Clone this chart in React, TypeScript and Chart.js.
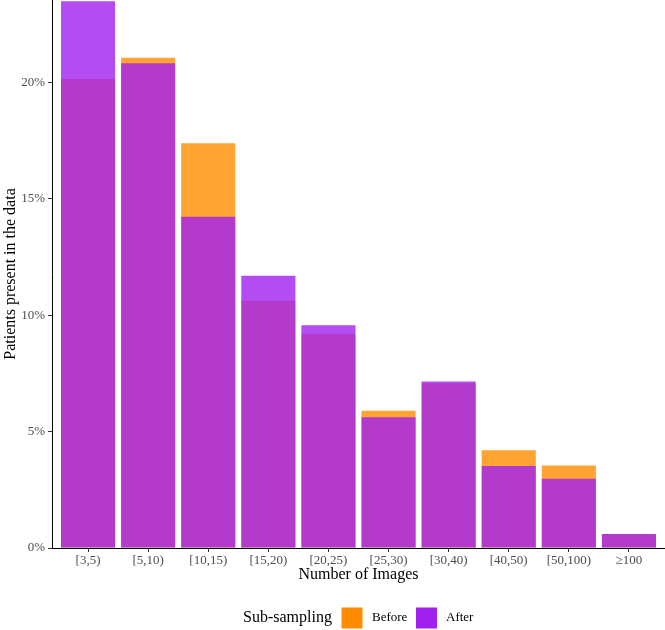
import React, { useEffect, useRef } from "react";
import { Chart, registerables } from "chart.js";

Chart.register(...registerables);

const categories = ["[3,5)", "[5,10)", "[10,15)", "[15,20)", "[20,25)", "[25,30)", "[30,40)", "[40,50)", "[50,100)", "≥100"];
const beforeValues = [20.15, 21.07, 17.39, 10.63, 9.2, 5.9, 7.08, 4.2, 3.55, 0.6];
const afterValues = [23.5, 20.83, 14.24, 11.7, 9.57, 5.62, 7.16, 3.52, 2.98, 0.6];
const yTicks = [0, 5, 10, 15, 20];
const seriesNames = ["Before", "After"];

const FONT = "'Liberation Serif', 'Times New Roman', serif";
const ORANGE = "rgba(255,140,0,0.8)";
const PURPLE = "rgba(160,32,240,0.8)";

const overlayPlugin = {
  id: "overlay",
  afterDraw(chart: any) {
    const ctx = chart.ctx;
    const ca = chart.chartArea;
    ctx.save();
    ctx.fillStyle = "#000";
    ctx.font = `16px ${FONT}`;
    ctx.textAlign = "center";
    ctx.textBaseline = "middle";
    ctx.save();
    ctx.translate(11, (ca.top + ca.bottom) / 2);
    ctx.rotate(-Math.PI / 2);
    ctx.fillText("Patients present in the data", 0, 0);
    ctx.restore();
    ctx.fillText("Number of Images", (ca.left + ca.right) / 2, 575);
    ctx.textAlign = "left";
    ctx.fillText("Sub-sampling", 243, 618);
    ctx.fillStyle = "rgb(255,140,0)";
    ctx.fillRect(341.5, 607.5, 21, 21);
    ctx.fillStyle = "rgb(160,32,240)";
    ctx.fillRect(416, 607.5, 21, 21);
    ctx.fillStyle = "#000";
    ctx.font = `13px ${FONT}`;
    ctx.fillText(seriesNames[0], 372, 618);
    ctx.fillText(seriesNames[1], 446, 618);
    ctx.restore();
  },
};

export default function App() {
  const ref = useRef<HTMLCanvasElement>(null);
  useEffect(() => {
    document.body.style.margin = "0";
    const chart = new Chart(ref.current!, {
      type: "bar",
      data: {
        datasets: [
          {
            label: seriesNames[0],
            data: beforeValues.map((v, i) => ({ x: i + 1, y: v })),
            backgroundColor: ORANGE,
            borderWidth: 0,
            grouped: false,
            order: 2,
          } as any,
          {
            label: seriesNames[1],
            data: afterValues.map((v, i) => ({ x: i + 1, y: v })),
            backgroundColor: PURPLE,
            borderWidth: 0,
            grouped: false,
            order: 1,
          } as any,
        ],
      },
      options: {
        animation: false,
        responsive: false,
        layout: { padding: 0 },
        barPercentage: 0.9,
        categoryPercentage: 1,
        plugins: { legend: { display: false }, tooltip: { enabled: false } },
        scales: {
          x: {
            type: "linear",
            offset: false,
            min: 0.4,
            max: 10.6,
            afterFit: (s: any) => { s.height = 82; s.paddingLeft = 0; s.paddingRight = 0; },
            afterBuildTicks: (s: any) => { s.ticks = categories.map((_, i) => ({ value: i + 1 })); },
            ticks: {
              autoSkip: false,
              maxRotation: 0,
              padding: 1,
              color: "#4D4D4D",
              font: { family: FONT, size: 13 },
              callback: (v: any) => categories[Math.round(Number(v)) - 1] ?? "",
            },
            grid: { display: true, offset: false, drawOnChartArea: false, drawTicks: true, tickLength: 4, color: "#333333" },
            border: { display: true, color: "#000", width: 1 },
          },
          y: {
            type: "linear",
            min: 0,
            max: 23.55,
            afterFit: (s: any) => { s.width = 52; s.paddingTop = 0; s.paddingBottom = 0; },
            afterBuildTicks: (s: any) => { s.ticks = yTicks.map((v) => ({ value: v })); },
            ticks: {
              padding: 3,
              color: "#4D4D4D",
              font: { family: FONT, size: 13 },
              callback: (v: any) => `${v}%`,
            },
            grid: { display: true, drawOnChartArea: false, drawTicks: true, tickLength: 4, color: "#333333" },
            border: { display: true, color: "#000", width: 1 },
          },
        },
      } as any,
      plugins: [overlayPlugin],
    });
    return () => chart.destroy();
  }, []);
  return (
    <div style={{ width: 665, height: 630, background: "#fff" }}>
      <canvas ref={ref} width={665} height={630} />
    </div>
  );
}
